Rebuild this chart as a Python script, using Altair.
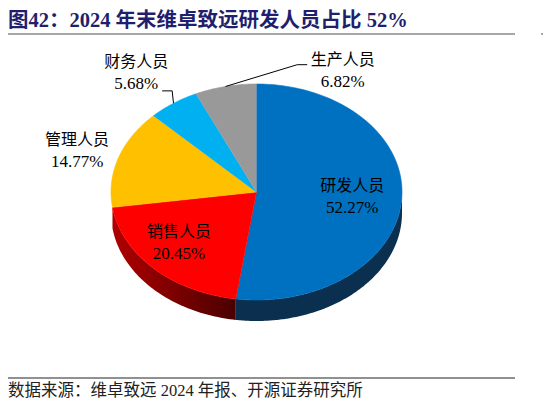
import altair as alt
import numpy as np
import pandas as pd

# 2024 年末维卓致远人员构成（%）
names = ["研发人员", "销售人员", "管理人员", "财务人员", "生产人员"]
shares = [52.27, 20.45, 14.77, 5.68, 6.82]
pct_text = ["52.27%", "20.45%", "14.77%", "5.68%", "6.82%"]

title_text = "图42：2024 年末维卓致远研发人员占比 52%"
source_text = "数据来源：维卓致远 2024 年报、开源证券研究所"

top_colors = ["#0070C0", "#FF0000", "#FFC000", "#00B0F0", "#999999"]
side_colors = {
    "研发人员": "#0B2F4F",
    "销售人员": alt.Gradient(
        gradient="linear",
        stops=[alt.GradientStop(color="#B00000", offset=0),
               alt.GradientStop(color="#4A0000", offset=1)],
        x1=0, x2=1, y1=0, y2=0,
    ),
}

# pie geometry (chart pixels) and label styling
CX, CY, RX, RY, DEPTH = 248.5, 184, 145.5, 108, 21
label_r = [0.66, 0.71, 1.29, 1.375, 1.27]
label_shift = [0, 3.7, -1.3, -2.2, 40.1]
leaders = {"财务人员": [(36, 17.5), (26, 17.5)], "生产人员": [(-45.5, -6), (-35.5, -6)]}

FONT = "Liberation Serif, Noto Sans CJK SC"

total = sum(shares)
ends = np.cumsum(shares) / total
starts = ends - np.array(shares) / total


def ell(f, r=1.0):
    a = 2 * np.pi * f
    return CX + RX * r * np.sin(a), CY - RY * r * np.cos(a)


top_rows, side_rows, label_rows, leader_rows = [], [], [], []
for i, n in enumerate(names):
    steps = max(10, int(shares[i] * 3))
    top_rows.append(dict(name=n, k=-1, x=CX, y=CY))
    for k in range(steps + 1):
        x, y = ell(starts[i] + (ends[i] - starts[i]) * k / steps)
        top_rows.append(dict(name=n, k=k, x=x, y=y))

    # front wall: only the part of the rim facing the viewer
    lo, hi = max(starts[i], 0.25), min(ends[i], 0.75)
    if hi > lo:
        for k in range(steps + 1):
            x, y = ell(lo + (hi - lo) * k / steps)
            side_rows.append(dict(name=n, k=k, x=x, y=y))
        for k in range(steps + 1):
            x, y = ell(hi - (hi - lo) * k / steps)
            side_rows.append(dict(name=n, k=steps + 1 + k, x=x, y=y + DEPTH))

    mid = (starts[i] + ends[i]) / 2
    lx, ly = ell(mid + label_shift[i] / 360, label_r[i])
    label_rows.append(dict(name=n, pct=pct_text[i], x=lx, y1=ly - 11, y2=ly + 11))

    if n in leaders:
        ex, ey = ell(mid)
        leader_rows.append(dict(name=n, k=0, x=ex, y=ey))
        for j, (dx, dy) in enumerate(leaders[n]):
            leader_rows.append(dict(name=n, k=j + 1, x=lx + dx, y=ly + dy))

top_df = pd.DataFrame(top_rows)
side_df = pd.DataFrame(side_rows)
label_df = pd.DataFrame(label_rows)
leader_df = pd.DataFrame(leader_rows)

W, H = 535, 392
xs = alt.Scale(domain=[0, W], nice=False, zero=False)
ys = alt.Scale(domain=[0, H], nice=False, zero=False, reverse=True)

layers = []
for n, fill in side_colors.items():
    layers.append(
        alt.Chart(side_df).transform_filter(alt.datum.name == n)
        .mark_line(fill=fill, strokeWidth=0)
        .encode(x=alt.X("x:Q", scale=xs, axis=None),
                y=alt.Y("y:Q", scale=ys, axis=None),
                order="k:Q")
    )

for n, c in zip(names, top_colors):
    layers.append(
        alt.Chart(top_df).transform_filter(alt.datum.name == n)
        .mark_line(fill=c, stroke=c, strokeWidth=0.6)
        .encode(x=alt.X("x:Q", scale=xs, axis=None),
                y=alt.Y("y:Q", scale=ys, axis=None),
                order="k:Q")
    )

layers.append(
    alt.Chart(leader_df).mark_line(color="black", strokeWidth=1)
    .encode(x=alt.X("x:Q", scale=xs, axis=None),
            y=alt.Y("y:Q", scale=ys, axis=None),
            detail="name:N", order="k:Q")
)

layers.append(
    alt.Chart(label_df).mark_text(font=FONT, fontSize=16, color="black")
    .encode(x=alt.X("x:Q", scale=xs, axis=None),
            y=alt.Y("y1:Q", scale=ys, axis=None), text="name:N")
)
layers.append(
    alt.Chart(label_df).mark_text(font=FONT, fontSize=17, color="black")
    .encode(x=alt.X("x:Q", scale=xs, axis=None),
            y=alt.Y("y2:Q", scale=ys, axis=None), text="pct:N")
)

one = pd.DataFrame({"title": [title_text], "source": [source_text]})
layers.append(
    alt.Chart(one).mark_text(font=FONT, fontSize=20.5, fontWeight="bold",
                             color="#1F1F6E", align="left", baseline="middle")
    .encode(x=alt.value(0), y=alt.value(12.5), text="title:N")
)
layers.append(
    alt.Chart(one).mark_rule(color="#8A8A8A", strokeWidth=1.6)
    .encode(x=alt.value(-3), x2=alt.value(507), y=alt.value(26))
)
layers.append(
    alt.Chart(one).mark_rule(color="#8A8A8A", strokeWidth=1.6)
    .encode(x=alt.value(533), x2=alt.value(540), y=alt.value(26))
)
layers.append(
    alt.Chart(one).mark_rule(color="#222222", strokeWidth=1)
    .encode(x=alt.value(-3), x2=alt.value(507), y=alt.value(370))
)
layers.append(
    alt.Chart(one).mark_text(font=FONT, fontSize=16.5, color="#222222",
                             align="left", baseline="middle")
    .encode(x=alt.value(0), y=alt.value(383), text="source:N")
)

chart = alt.layer(*layers).properties(
    width=W, height=H, padding=0, autosize="none"
).configure_view(stroke=None)

chart.save("out.html", embed_options={"renderer": "svg", "actions": False})
